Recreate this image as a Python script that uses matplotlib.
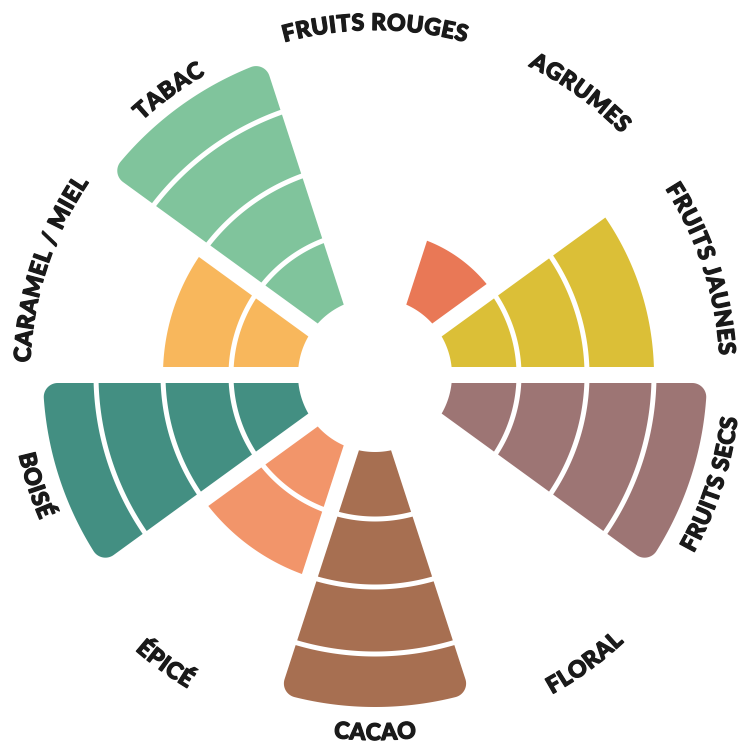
import numpy as np
import matplotlib
matplotlib.use("Agg")
import matplotlib.pyplot as plt
import matplotlib.patheffects as pe
from matplotlib.patches import Polygon
from matplotlib.font_manager import FontProperties

# aromes, dans le sens horaire depuis le haut
categories = ["FRUITS ROUGES", "AGRUMES", "FRUITS JAUNES", "FRUITS SECS", "FLORAL",
              "CACAO", "ÉPICÉ", "BOISÉ", "CARAMEL / MIEL", "TABAC"]
intensity = [0, 1, 3, 4, 0, 4, 2, 4, 2, 4]
colors = ["#D9534F", "#E97856", "#DBBF37", "#9D7574", "#C9A0C8",
          "#A76F51", "#F2956A", "#438F82", "#F8B75C", "#80C49C"]

# rayon (px) de chaque niveau d'intensite, le dernier anneau est plus fin
level_r = [77, 144, 212, 279, 332]
gap = 8        # demi-espace blanc entre secteurs
sep = 2.5      # demi-trait blanc entre anneaux
corner = 14    # arrondi du dernier anneau
text_col = "#1A1A1A"

fig = plt.figure(figsize=(7.5, 7.5), dpi=100)
ax = fig.add_axes([0, 0, 1, 1], projection="polar")
ax.set_ylim(0, 375)
ax.set_axis_off()

n_cat = len(categories)
step = 2 * np.pi / n_cat
centers = np.pi / 2 - step * np.arange(n_cat)


def arc_pts(cx, cy, rad, a0, a1, n=20):
    a = np.linspace(a0, a1, n)
    xs = cx + rad * np.cos(a)
    ys = cy + rad * np.sin(a)
    return list(zip(np.arctan2(ys, xs), np.hypot(xs, ys)))


def segment(phi1, phi2, ra, rb, rounded):
    pts = [(t, ra) for t in np.linspace(phi1 + np.arcsin(gap / ra),
                                         phi2 - np.arcsin(gap / ra), 60)]
    if not rounded:
        pts += [(t, rb) for t in np.linspace(phi2 - np.arcsin(gap / rb),
                                             phi1 + np.arcsin(gap / rb), 60)]
    else:
        rc = rb - corner
        tc2 = phi2 - np.arcsin((gap + corner) / rc)
        tc1 = phi1 + np.arcsin((gap + corner) / rc)
        pts += arc_pts(rc * np.cos(tc2), rc * np.sin(tc2), corner, phi2 + np.pi / 2, tc2)
        pts += [(t, rb) for t in np.linspace(tc2, tc1, 60)]
        pts += arc_pts(rc * np.cos(tc1), rc * np.sin(tc1), corner, tc1, phi1 - np.pi / 2)
    pts = np.array(pts)
    pts[:, 0] = np.unwrap(pts[:, 0])
    return pts


for c, v, col in zip(centers, intensity, colors):
    phi1, phi2 = c - step / 2, c + step / 2
    for k in range(v):
        ra = level_r[k] + (sep if k > 0 else 0)
        rb = level_r[k + 1] - (sep if k < v - 1 else 0)
        rounded = (k == len(level_r) - 2)
        ax.add_patch(Polygon(segment(phi1, phi2, ra, rb, rounded), closed=True,
                             facecolor=col, edgecolor="none"))

# libelles courbes, lettre par lettre
fp = FontProperties(family="Lato", weight="black", size=16.5)
renderer = fig.canvas.get_renderer()
tracking = 0.6
bold = [pe.withStroke(linewidth=0.9, foreground=text_col)]


def char_w(ch):
    if ch == " ":
        return (renderer.get_text_width_height_descent("a a", fp, False)[0]
                - renderer.get_text_width_height_descent("aa", fp, False)[0])
    return renderer.get_text_width_height_descent(ch, fp, False)[0]


for c, label in zip(centers, categories):
    widths = np.array([char_w(ch) for ch in label]) + tracking
    mids = np.cumsum(widths) - widths / 2
    total = widths.sum()
    upper = np.sin(c) > 1e-6
    r_base = 345 if upper else 365
    for ch, m in zip(label, mids):
        if upper:
            t = c + (total / 2 - m) / r_base
            rot = np.degrees(t) - 90
        else:
            t = c - (total / 2 - m) / r_base
            rot = np.degrees(t) + 90
        ax.text(t, r_base, ch, fontproperties=fp, color=text_col,
                ha="center", va="baseline", rotation=rot, rotation_mode="anchor",
                path_effects=bold)

fig.savefig("out.png", dpi=100, facecolor="white")
